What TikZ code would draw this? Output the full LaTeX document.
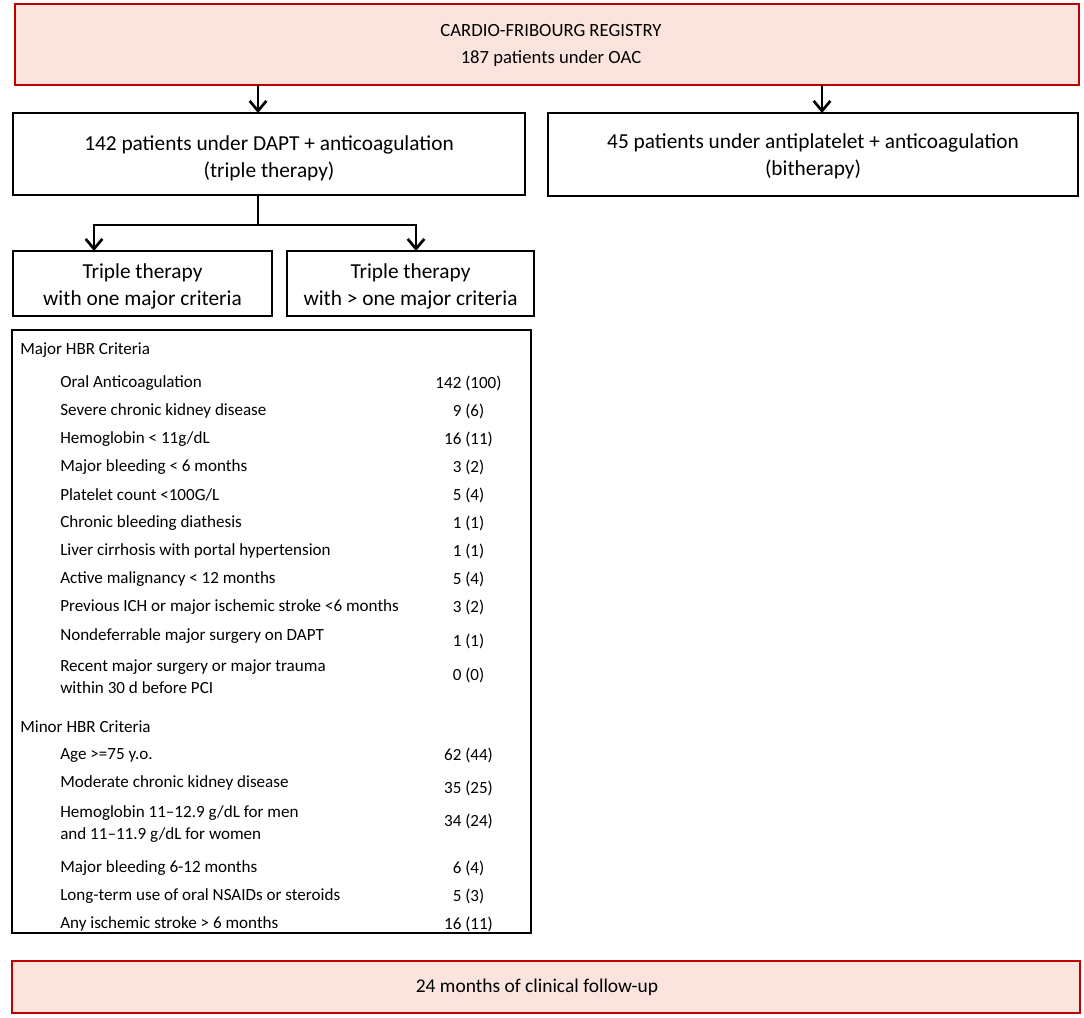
\documentclass[tikz,border=0pt]{standalone}
\usepackage{fontspec}
\setmainfont{Carlito}
\usetikzlibrary{arrows.meta,calc}
\definecolor{pinkfill}{HTML}{FCE4DE}
\definecolor{redline}{HTML}{C00000}
\begin{document}
\begin{tikzpicture}[x=0.75pt,y=-0.75pt,
  pinkbox/.style={draw=redline,fill=pinkfill,line width=1.6pt,inner sep=0pt},
  whitebox/.style={draw=black,line width=1.1pt,inner sep=0pt},
  toptxt/.style={font=\fontsize{14}{20.25}\selectfont,align=center},
  bigtxt/.style={font=\fontsize{16}{20.25}\selectfont,align=center},
  tabtxt/.style={font=\fontsize{12.8}{16.5}\selectfont,anchor=west,align=left,inner sep=0pt},
  valtxt/.style={font=\fontsize{12.8}{16.5}\selectfont,anchor=center,inner sep=0pt},
  arr/.style={line width=2pt,-{Straight Barb[length=7.5pt,width=12.5pt,line width=2pt]}},
  lnk/.style={line width=2pt}]
\useasboundingbox (0,0) rectangle (1084,1017);
% boxes
\draw[pinkbox] (15,4) rectangle (1079,85);
\node[toptxt] (top) at (551,45) {CARDIO-FRIBOURG REGISTRY\\187 patients under OAC};
\draw[whitebox] (13,113) rectangle (525,195);
\node[bigtxt] (A) at (269,158) {142 patients under DAPT + anticoagulation\\(triple therapy)};
\draw[whitebox] (548,113) rectangle (1078,196);
\node[bigtxt] (B) at (813,156.5) {45 patients under antiplatelet + anticoagulation\\(bitherapy)};
\draw[whitebox] (13,251) rectangle (272,316);
\node[bigtxt] (C) at (142.5,286) {Triple therapy\\with one major criteria};
\draw[whitebox] (287,251) rectangle (534,316);
\node[bigtxt] (D) at (410.5,286) {Triple therapy\\with > one major criteria};
\draw[pinkbox] (12,961) rectangle (1080,1013);
\node[toptxt,font=\fontsize{14.6}{20.25}\selectfont] (E) at (537,987) {24 months of clinical follow-up};
% connectors
\coordinate (xc) at (94,0);
\coordinate (xd) at (416,0);
\coordinate (split) at (258,225);
\draw[arr] (258,85) -- (258,113);
\draw[arr] (822,85) -- (822,113);
\draw[lnk] (258,195) -- (split);
\draw[arr] (split -| xc) -- (94,251);
\draw[arr] (split -| xd) -- (416,251);
\draw[lnk] (92.7,225) -- (417.3,225);
% table
\draw[line width=1.5pt] (12,330) rectangle (531,933);
\node[tabtxt] (h1) at (20,350) {Major HBR Criteria};
\foreach \n/\t/\v/\y/\vy in {
 r1/{Oral Anticoagulation}/{142 (100)}/383/383,
 r2/{Severe chronic kidney disease}/{9 (6)}/411/411,
 r3/{Hemoglobin < 11g/dL}/{16 (11)}/439/439,
 r4/{Major bleeding < 6 months}/{3 (2)}/467/467,
 r5/{Platelet count <100G/L}/{5 (4)}/495/495,
 r6/{Chronic bleeding diathesis}/{1 (1)}/523/523,
 r7/{Liver cirrhosis with portal hypertension}/{1 (1)}/551/551,
 r8/{Active malignancy < 12 months}/{5 (4)}/579/579,
 r9/{Previous ICH or major ischemic stroke <6 months}/{3 (2)}/607/607,
 r10/{Nondeferrable major surgery on DAPT}/{1 (1)}/636/641,
 s1/{Age >=75 y.o.}/{62 (44)}/755/755,
 s2/{Moderate chronic kidney disease}/{35 (25)}/783/788,
 s4/{Major bleeding 6-12 months}/{6 (4)}/868/868,
 s5/{Long-term use of oral NSAIDs or steroids}/{5 (3)}/896/896,
 s6/{Any ischemic stroke > 6 months}/{16 (11)}/924/924}{
  \node[tabtxt] (\n) at (60,\y) {\t};
  \node[valtxt] (\n v) at (468.5,\vy) {\v};
}
\node[tabtxt] (r11) at (60,677) {Recent major surgery or major trauma\\within 30 d before PCI};
\node[valtxt] (r11v) at (468.5,675) {0 (0)};
\node[tabtxt] (h2) at (20,727) {Minor HBR Criteria};
\node[tabtxt] (s3) at (60,824) {Hemoglobin 11–12.9 g/dL for men\\and 11–11.9 g/dL for women};
\node[valtxt] (s3v) at (468.5,821) {34 (24)};
\end{tikzpicture}
\end{document}
